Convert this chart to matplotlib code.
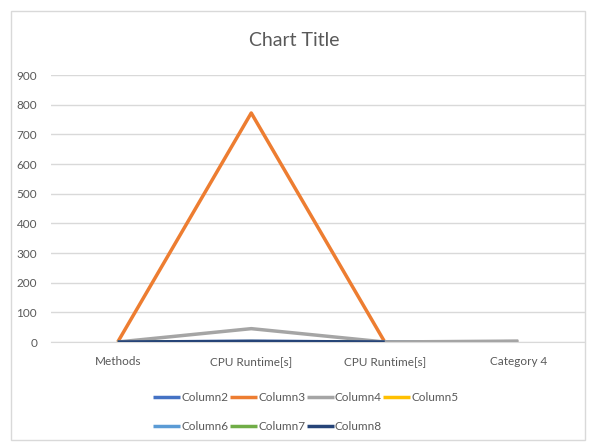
import numpy as np
import matplotlib.pyplot as plt

plt.rcParams['font.family'] = ['Lato', 'DejaVu Sans']

categories = ['Methods', 'CPU Runtime[s]', 'CPU Runtime[s]', 'Category 4']
col2 = [0, 2, 0, np.nan]
col3 = [0, 772, 0, 1]
col4 = [0, 45, 0, 3]
col5 = [0, 1, 0, np.nan]
col6 = [0, 1, 0, 1]
col7 = [0, 1, 0, np.nan]
col8 = [0, 2, 0, np.nan]
names = ['Column2', 'Column3', 'Column4', 'Column5', 'Column6', 'Column7', 'Column8']
colors = ['#4472C4', '#ED7D31', '#A5A5A5', '#FFC000', '#5B9BD5', '#70AD47', '#264478']

fig = plt.figure(figsize=(5.89, 4.44), dpi=100)
ax = fig.add_axes([51/589, 102/444, 534/589, 267/444])

# outer chart border
fig.patches.append(plt.Rectangle((11/589, 4/444), 574/589, 429/444,
                                 transform=fig.transFigure, fill=False,
                                 edgecolor='#d9d9d9', linewidth=1))

x = np.arange(len(categories))
series = [col2, col3, col4, col5, col6, col7, col8]
zorders = [2, 2, 3, 2, 2, 2, 4]
handles = []
for vals, name, c, z in zip(series, names, colors, zorders):
    h, = ax.plot(x, vals, color=c, linewidth=2.5, label=name,
                 solid_capstyle='butt', zorder=z)
    handles.append(h)

ax.set_xlim(-0.5, 3.5)
ax.set_ylim(0, 900)
ax.set_yticks(np.arange(0, 901, 100))
ax.set_xticks(x)
ax.set_xticklabels(categories)
ax.grid(axis='y', color='#d9d9d9', linewidth=1)
ax.set_axisbelow(True)
for s in ['top', 'right', 'left']:
    ax.spines[s].set_visible(False)
ax.spines['bottom'].set_color('#d9d9d9')
ax.tick_params(length=0, labelsize=8.5, colors='#595959')
ax.tick_params(axis='y', pad=10)
ax.tick_params(axis='x', pad=10)

fig.text(0.5, 1 - 40/444, 'Chart Title', ha='center', va='center',
         fontsize=14, color='#595959')

order = [0, 4, 1, 5, 2, 6, 3]
leg = fig.legend([handles[i] for i in order], [names[i] for i in order],
                 ncol=4, loc='center', bbox_to_anchor=(306/589, 1 - 412/444),
                 frameon=False, fontsize=8.5, handlelength=2.3,
                 handletextpad=0.1, columnspacing=0.1, labelspacing=1.5)
for t in leg.get_texts():
    t.set_color('#595959')

fig.savefig('out.png', dpi=100)
